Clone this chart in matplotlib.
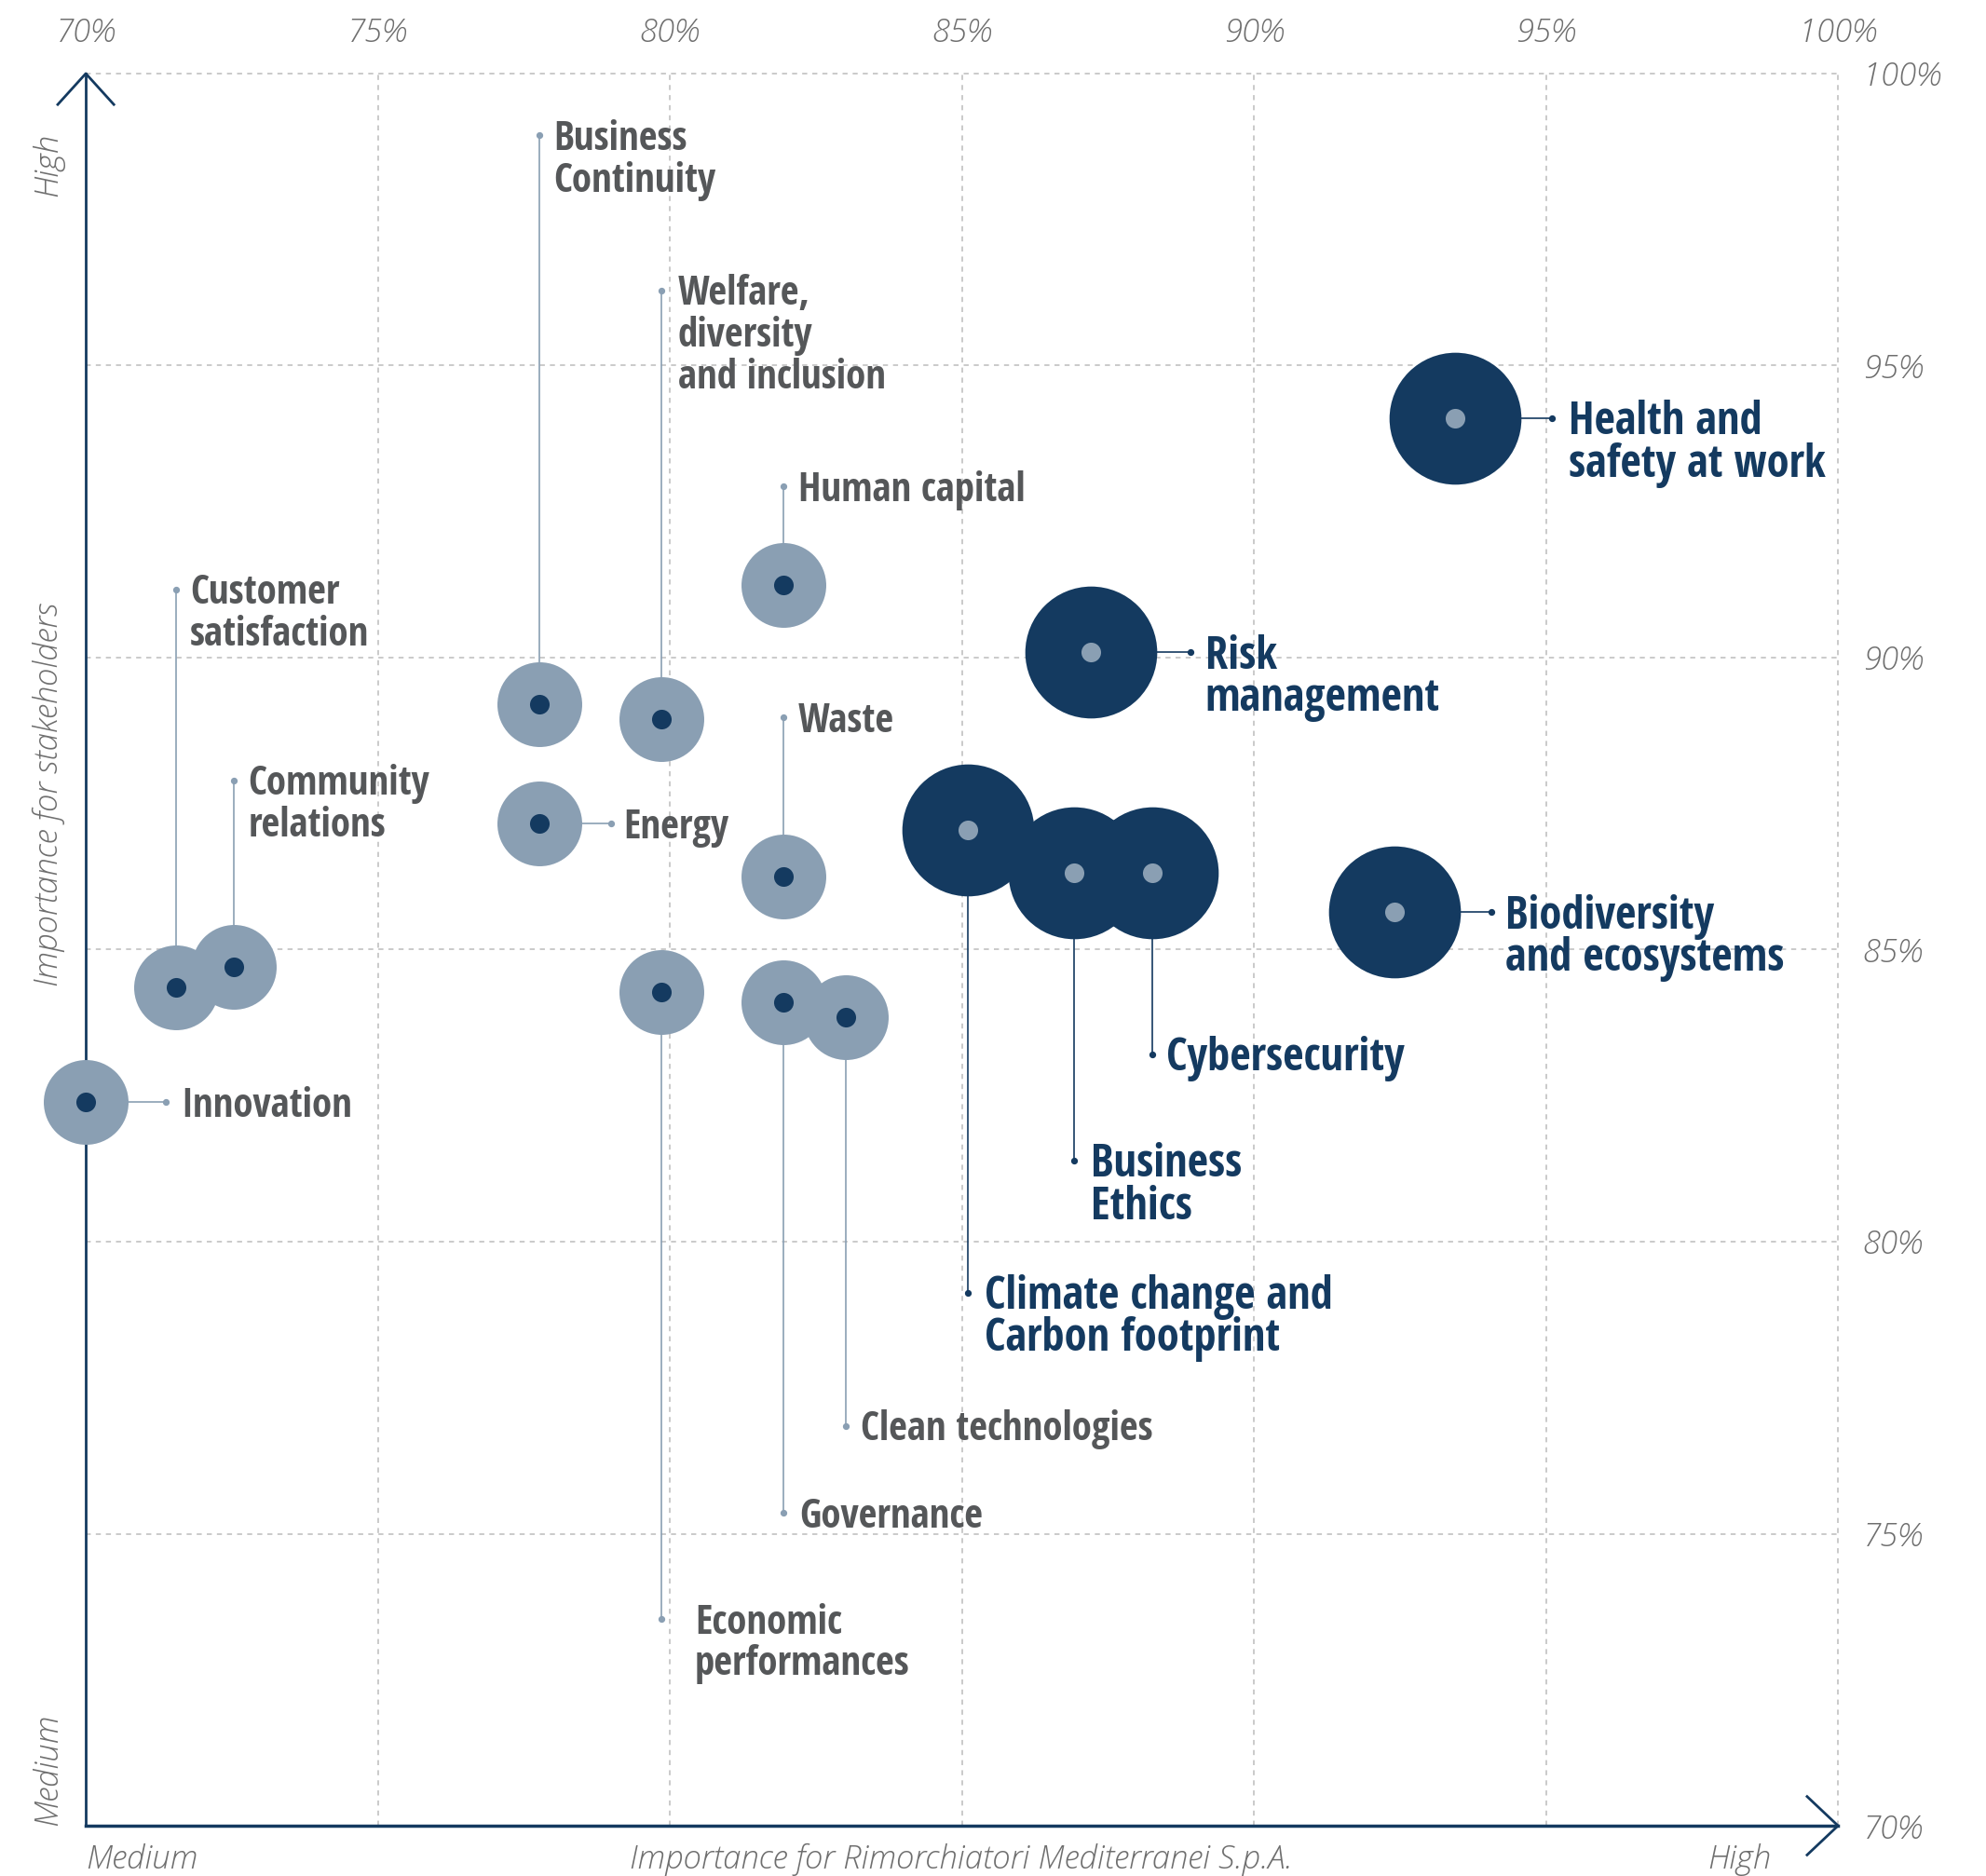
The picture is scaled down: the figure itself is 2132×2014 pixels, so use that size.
import matplotlib
matplotlib.use("Agg")
import matplotlib.pyplot as plt
from matplotlib.font_manager import FontProperties

# materiality topics
topics = ["Innovation", "Customer satisfaction", "Community relations",
          "Business Continuity", "Energy", "Welfare, diversity and inclusion",
          "Economic performances", "Human capital", "Waste", "Governance",
          "Clean technologies", "Climate change and Carbon footprint",
          "Business Ethics", "Cybersecurity", "Biodiversity and ecosystems",
          "Risk management", "Health and safety at work"]
labels = ["Innovation", "Customer\nsatisfaction", "Community\nrelations",
          "Business\nContinuity", "Energy", "Welfare,\ndiversity\nand inclusion",
          "Economic\nperformances", "Human capital", "Waste", "Governance",
          "Clean technologies", "Climate change and\nCarbon footprint",
          "Business\nEthics", "Cybersecurity", "Biodiversity\nand ecosystems",
          "Risk\nmanagement", "Health and\nsafety at work"]
# importance for Rimorchiatori Mediterranei S.p.A. (%)
company = [70.0, 71.54, 72.54, 77.77, 77.77, 79.85, 79.85, 81.95, 81.95, 81.95,
           83.02, 85.10, 86.92, 88.26, 92.41, 87.20, 93.45]
# importance for stakeholders (%)
stakeholders = [82.39, 84.36, 84.71, 89.20, 87.16, 88.94, 84.27, 91.24, 86.25, 84.10,
                83.84, 87.05, 86.31, 86.31, 85.64, 90.09, 94.10]
tier = ["medium"] * 11 + ["high"] * 6

ticks = [70, 75, 80, 85, 90, 95, 100]
tick_labels = ["%d%%" % t for t in ticks]

# where each leader line ends (offset from the bubble, in % units)
leader = [(1.37, 0), (0, 6.81), (0, 3.19), (0, 9.74), (1.23, 0), (0, 7.35),
          (0, -10.73), (0, 1.69), (0, 2.73), (0, -8.74), (0, -6.99), (0, -7.92),
          (0, -4.92), (0, -3.10), (1.65, 0), (1.72, 0), (1.65, 0)]
label_gap = [12, 11, 11, 11, 9, 13, 26, 11, 11, 12, 11, 13, 13, 11, 11, 11, 13]

NAVY = "#143a60"
STEEL = "#8a9fb3"
GREY_TXT = "#555759"
TICK_TXT = "#6e6e6e"
GRID = "#c6c6c6"

BIG_FS, SMALL_FS = 35, 31
big_fp = FontProperties(family="Open Sans Condensed", weight=700, stretch="condensed", size=BIG_FS)
small_fp = FontProperties(family="Open Sans Condensed", weight=700, stretch="condensed", size=SMALL_FS)
light_fp = FontProperties(family="Open Sans", style="italic", weight=300, stretch="normal", size=25)

fig = plt.figure(figsize=(21.32, 20.14), dpi=100)
ax = fig.add_axes([0.0432, 0.0268, 0.8823, 0.9340])
ax.set_xlim(70, 100)
ax.set_ylim(70, 100)
for s in ax.spines.values():
    s.set_visible(False)

# dashed grid
for t in ticks[1:]:
    ax.plot([t, t], [70, 100], color=GRID, lw=1.3, ls=(0, (3, 3)), zorder=0, clip_on=False)
    ax.plot([70, 100], [t, t], color=GRID, lw=1.3, ls=(0, (3, 3)), zorder=0, clip_on=False)

# axes with open arrow heads
ax.plot([70, 70], [70, 100], color=NAVY, lw=2, zorder=1, clip_on=False)
ax.plot([70, 100], [70, 70], color=NAVY, lw=2.5, zorder=1, clip_on=False)
ax.plot([69.52, 70, 70.48], [99.47, 100, 99.47], color=NAVY, lw=2, clip_on=False)
ax.plot([99.47, 100, 99.47], [70.5, 70, 69.5], color=NAVY, lw=2, clip_on=False)

ax.set_xticks(ticks)
ax.set_xticklabels(tick_labels)
ax.set_yticks(ticks)
ax.set_yticklabels(tick_labels)
ax.tick_params(axis="x", bottom=False, labelbottom=False, top=True, labeltop=True,
               length=0, pad=19, colors=TICK_TXT)
ax.tick_params(axis="y", left=False, labelleft=False, right=True, labelright=True,
               length=0, pad=19, colors=TICK_TXT)
for lab in ax.get_xticklabels() + ax.get_yticklabels():
    lab.set_fontproperties(light_fp)

# leader lines
for x, y, t, (dx, dy) in zip(company, stakeholders, tier, leader):
    c = NAVY if t == "high" else STEEL
    ax.plot([x, x + dx], [y, y + dy], color=c, lw=1.2, zorder=2)
    ax.plot(x + dx, y + dy, "o", color=c, ms=4.2, zorder=2)

# bubbles
for x, y, t in zip(company, stakeholders, tier):
    big = t == "high"
    ax.scatter(x, y, s=10400 if big else 4290, color=NAVY if big else STEEL,
               linewidths=0, zorder=3, clip_on=False)
for x, y, t in zip(company, stakeholders, tier):
    big = t == "high"
    ax.scatter(x, y, s=230, color=STEEL if big else NAVY, linewidths=0, zorder=4,
               clip_on=False)

# labels
for x, y, t, (dx, dy), txt, g in zip(company, stakeholders, tier, leader, labels, label_gap):
    big = t == "high"
    fs = BIG_FS if big else SMALL_FS
    ax.annotate(txt, xy=(x + dx, y + dy), xytext=(g, 0.40 * fs), textcoords="offset points",
                ha="left", va="top", fontproperties=big_fp if big else small_fp,
                linespacing=0.9 if big else 1.05,
                color=NAVY if big else GREY_TXT, zorder=5)

# axis titles
fig.text(0.0244, 0.5765, "Importance for stakeholders", rotation=90, ha="center",
         va="center", fontproperties=light_fp, color=TICK_TXT)
fig.text(0.0244, 0.929, "High", rotation=90, ha="center", va="top",
         fontproperties=light_fp, color=TICK_TXT)
fig.text(0.0244, 0.0268, "Medium", rotation=90, ha="center", va="bottom",
         fontproperties=light_fp, color=TICK_TXT)
fig.text(0.0432, 0.0085, "Medium", ha="left", va="center",
         fontproperties=light_fp, color=TICK_TXT)
fig.text(0.484, 0.0085, "Importance for Rimorchiatori Mediterranei S.p.A.", ha="center",
         va="center", fontproperties=light_fp, color=TICK_TXT)
fig.text(0.8917, 0.0085, "High", ha="right", va="center",
         fontproperties=light_fp, color=TICK_TXT)

fig.savefig("out.png", dpi=100)
